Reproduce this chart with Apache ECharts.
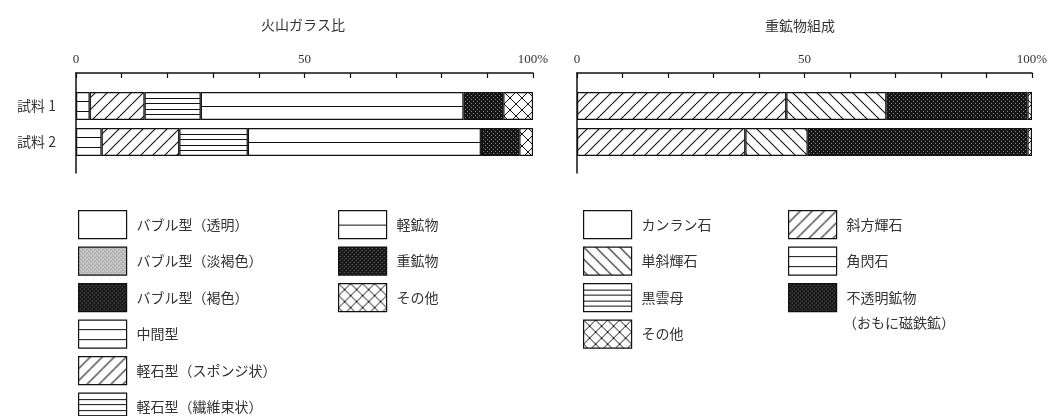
<!DOCTYPE html>
<html>
<head>
<meta charset="utf-8">
<script src="https://cdn.jsdelivr.net/npm/echarts@6/dist/echarts.min.js"></script>
<style>
html, body { margin: 0; padding: 0; background: #fff; }
#main { width: 1056px; height: 416px; }
</style>
</head>
<body>
<div id="main"></div>
<script>
// 試料
var samples = ['試料 1', '試料 2'];
var majorTicks = [0, 50, 100];
var noData = ['-', '-'];

// 火山ガラス比 (%)
var glassChukan = [3, 5.6];      // 中間型
var glassSponge = [12, 17];      // 軽石型（スポンジ状）
var glassFiber = [12.3, 15];     // 軽石型（繊維束状）
var glassLight = [57.5, 51];     // 軽鉱物
var glassHeavy = [8.7, 8.4];     // 重鉱物
var glassOther = [6.5, 3];       // その他

// 重鉱物組成 (%)
var heavyOpx = [46, 37];         // 斜方輝石
var heavyCpx = [22, 13.7];       // 単斜輝石
var heavyOpaque = [31, 48.3];    // 不透明鉱物
var heavyOther = [1, 1];         // その他

// pattern tiles
function makeTile(w, h, draw) {
    var c = document.createElement('canvas');
    c.width = w;
    c.height = h;
    var g = c.getContext('2d');
    g.fillStyle = '#fff';
    g.fillRect(0, 0, w, h);
    draw(g);
    return c;
}
var BAR_H = 28;
function hLines(fracs) {
    return makeTile(8, 36, function (g) {
        g.strokeStyle = '#111';
        g.lineWidth = 1;
        fracs.forEach(function (f) {
            var y = Math.round(f * BAR_H) + 0.5;
            g.beginPath(); g.moveTo(0, y); g.lineTo(8, y); g.stroke();
        });
    });
}
function diag(dir) {
    return makeTile(12, 12, function (g) {
        g.strokeStyle = '#111';
        g.lineWidth = 1.1;
        for (var k = -12; k <= 12; k += 12) {
            g.beginPath();
            if (dir > 0) { g.moveTo(k, 12); g.lineTo(k + 12, 0); }
            else { g.moveTo(k, 0); g.lineTo(k + 12, 12); }
            g.stroke();
        }
    });
}
function cross() {
    return makeTile(12, 12, function (g) {
        g.strokeStyle = '#111';
        g.lineWidth = 1;
        for (var k = -12; k <= 12; k += 12) {
            g.beginPath(); g.moveTo(k, 12); g.lineTo(k + 12, 0); g.stroke();
            g.beginPath(); g.moveTo(k, 0); g.lineTo(k + 12, 12); g.stroke();
        }
    });
}
function stipple(bg, dot, pts) {
    return makeTile(4, 4, function (g) {
        g.fillStyle = bg; g.fillRect(0, 0, 4, 4);
        g.fillStyle = dot;
        pts.forEach(function (p) { g.fillRect(p[0], p[1], 1, 1); });
    });
}

var tiles = {
    white: makeTile(4, 4, function () {}),
    light: stipple('#b4b4b4', '#f0f0f0', [[0, 0], [2, 2]]),
    dark: stipple('#161616', '#808080', [[1, 1], [3, 3]]),
    line1: hLines([0.5]),
    line2: hLines([1 / 3, 2 / 3]),
    line4: hLines([0.2, 0.4, 0.6, 0.8]),
    slash: diag(1),
    back: diag(-1),
    cross: cross()
};
// bars start at y=92,128 (grid top 88, band 36, width 28)
function barPat(t) { return { image: tiles[t], repeat: 'repeat', y: 20 }; }
function legPat(t) { return { image: tiles[t], repeat: 'repeat', x: 0, y: 0 }; }

var FONT = "'Noto Sans CJK JP', sans-serif";
var NUMFONT = "'Liberation Serif', 'Noto Sans CJK JP', serif";

function bar(name, data, t, side) {
    var idx = side === 'L' ? 1 : 3;
    return {
        type: 'bar', name: name, data: data, stack: side,
        xAxisIndex: idx, yAxisIndex: idx,
        barWidth: BAR_H,
        silent: true,
        itemStyle: { color: barPat(t), borderColor: '#111', borderWidth: 1.2 },
        emphasis: { disabled: true }
    };
}

var series = [
    bar('バブル型（透明）', noData, 'white', 'L'),
    bar('バブル型（淡褐色）', noData, 'light', 'L'),
    bar('バブル型（褐色）', noData, 'dark', 'L'),
    bar('中間型', glassChukan, 'line2', 'L'),
    bar('軽石型（スポンジ状）', glassSponge, 'slash', 'L'),
    bar('軽石型（繊維束状）', glassFiber, 'line4', 'L'),
    bar('軽鉱物', glassLight, 'line1', 'L'),
    bar('重鉱物', glassHeavy, 'dark', 'L'),
    bar('その他', glassOther, 'cross', 'L'),
    bar('カンラン石', noData, 'white', 'R'),
    bar('斜方輝石', heavyOpx, 'slash', 'R'),
    bar('単斜輝石', heavyCpx, 'back', 'R'),
    bar('角閃石', noData, 'line2', 'R'),
    bar('黒雲母', noData, 'line4', 'R'),
    bar('不透明鉱物', heavyOpaque, 'dark', 'R'),
    bar('その他', heavyOther, 'cross', 'R')
];

function legend(left, items) {
    return {
        orient: 'vertical', left: left, top: 210, height: 260, padding: 0,
        icon: 'rect', itemWidth: 48, itemHeight: 28, itemGap: 7.3,
        selectedMode: false,
        itemStyle: { borderColor: '#111', borderWidth: 1.2 },
        textStyle: { fontSize: 14, color: '#333', fontFamily: FONT, padding: [0, 0, 0, 5] },
        data: items.map(function (it) {
            return { name: it[0], itemStyle: { color: legPat(it[1]) } };
        })
    };
}

function topAxis(idx) {
    return {
        type: 'value', gridIndex: idx, position: 'top', min: 0, max: 100, interval: 10,
        axisLine: { show: true, onZero: false, lineStyle: { color: '#111', width: 1.5 } },
        axisTick: { show: true, inside: true, length: 5, lineStyle: { color: '#111', width: 1.2 } },
        splitLine: { show: false },
        axisLabel: {
            margin: 7, fontSize: 13, color: '#333', fontFamily: NUMFONT,
            formatter: function (v) {
                if (majorTicks.indexOf(v) < 0) return '';
                return v === 100 ? '100%' : String(v);
            }
        }
    };
}
function hiddenX(idx) {
    return { type: 'value', gridIndex: idx, min: 0, max: 100, show: false };
}
function sideAxis(idx) {
    return {
        type: 'value', gridIndex: idx, min: 0, max: 1,
        axisLine: { show: true, onZero: false, lineStyle: { color: '#111', width: 1.5 } },
        axisTick: { show: false }, axisLabel: { show: false }, splitLine: { show: false }
    };
}
function catAxis(idx, showLabel) {
    return {
        type: 'category', gridIndex: idx, data: samples, inverse: true,
        axisLine: { show: false }, axisTick: { show: false },
        axisLabel: { show: showLabel, margin: 20, fontSize: 14, color: '#333', fontFamily: FONT }
    };
}

var chart = echarts.init(document.getElementById('main'));
chart.setOption({
    animation: false,
    backgroundColor: '#fff',
    textStyle: { fontFamily: FONT },
    title: [
        { text: '火山ガラス比', left: 256, top: 13, textStyle: { fontSize: 14, fontWeight: 'normal', color: '#333', fontFamily: FONT } },
        { text: '重鉱物組成', left: 760, top: 14, textStyle: { fontSize: 14, fontWeight: 'normal', color: '#333', fontFamily: FONT } }
    ],
    grid: [
        { left: 76, right: 523, top: 73, height: 100 },
        { left: 76, right: 523, top: 88, height: 72 },
        { left: 577, right: 24, top: 73, height: 100 },
        { left: 577, right: 24, top: 88, height: 72 }
    ],
    xAxis: [topAxis(0), hiddenX(1), topAxis(2), hiddenX(3)],
    yAxis: [sideAxis(0), catAxis(1, true), sideAxis(2), catAxis(3, false)],
    legend: [
        legend(78, [['バブル型（透明）', 'white'], ['バブル型（淡褐色）', 'light'], ['バブル型（褐色）', 'dark'],
                    ['中間型', 'line2'], ['軽石型（スポンジ状）', 'slash'], ['軽石型（繊維束状）', 'line4']]),
        legend(338, [['軽鉱物', 'line1'], ['重鉱物', 'dark'], ['その他', 'cross']]),
        legend(583, [['カンラン石', 'white'], ['単斜輝石', 'back'], ['黒雲母', 'line4'], ['その他', 'cross']]),
        legend(788, [['斜方輝石', 'slash'], ['角閃石', 'line2'], ['不透明鉱物', 'dark']])
    ],
    graphic: [
        { type: 'text', left: 843, top: 316, style: { text: '（おもに磁鉄鉱）', fontSize: 14, fill: '#333', fontFamily: FONT } }
    ],
    series: series
});
</script>
</body>
</html>
